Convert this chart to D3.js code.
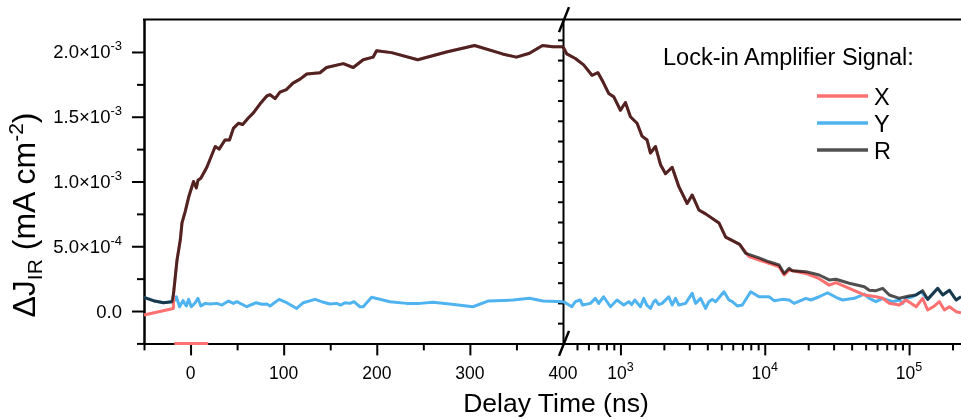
<!DOCTYPE html>
<html>
<head>
<meta charset="utf-8">
<style>
body { margin: 0; background: #fff; }
svg { display: block; font-family: "Liberation Sans", Arial, sans-serif; }
.axis path, .axis line { stroke: #000; stroke-width: 2; }
.trace { fill: none; stroke-width: 3; stroke-linejoin: round; }
</style>
</head>
<body>
<svg width="961" height="419"></svg>
<script src="https://cdnjs.cloudflare.com/ajax/libs/d3/7.8.5/d3.min.js"></script>
<script>
// all signals in units of 1e-4 mA cm^-2, time in ns
// left panel (linear time, -50..400 ns)
var rLeft = [[-50,1.06],[-40,0.8],[-29,0.64],[-20,0.72],[-18.2,1.4],[-14.6,3.9],[-11,5.5],[-9.2,6.8],
  [-5.7,7.7],[-2,8.8],[3.2,10.0],[6.2,9.5],[8,10.1],[11,10.25],[17.5,11.1],[26.5,12.7],[30.7,12.5],
  [37,13.2],[41.8,13.2],[46,14.1],[51.4,14.5],[56,14.4],[62,14.9],[67.5,15.3],[74.7,16.0],[81.9,16.6],
  [85.4,16.7],[90.8,16.4],[96,16.9],[103,17.1],[110,17.6],[117.6,17.9],[124.8,18.3],[139,18.4],
  [146,18.8],[164,19.1],[174.7,18.8],[185.4,19.4],[196,19.6],[199.8,20.1],[215.9,19.95],[244,19.4],
  [274.8,20.0],[305,20.5],[335,19.85],[350,19.6],[364,19.9],[378,20.5],[389,20.4],[400,20.4]];
var xLeftPre = [[-50,-0.31],[-18.5,0.2]];
var xLeftBelow = [[-17.5,-2.5],[19,-2.5]];
var yLeft = [[-50,1.06],[-40,0.8],[-29,0.64],[-20,0.72],[-18.2,0.72],[-15.3,1.1],[-11.8,0.33],[-8.1,0.8],
  [-4.6,0.39],[-2.1,0.9],[0.8,0.33],[5,0.64],[7.9,0.98],[11.1,0.39],[15.8,0.59],[21.1,0.54],[28.3,0.59],
  [33.7,0.46],[40.7,0.77],[46.1,0.59],[49.7,0.72],[60.4,0.33],[70.4,0.64],[76.5,0.52],[81.9,0.54],
  [85.4,0.39],[95.1,0.9],[103.3,0.64],[114,0.2],[121.1,0.64],[133.7,0.9],[140.8,0.72],[149.7,0.54],
  [156.9,0.59],[161.2,0.46],[165.8,0.64],[171.2,0.59],[175.5,0.72],[181.9,0.33],[185.4,0.33],
  [194.4,1.06],[214,0.72],[231.9,0.59],[246.2,0.59],[260.4,0.67],[278.3,0.54],[303.3,0.33],
  [319.4,0.77],[346.2,0.85],[364.1,0.98],[378.3,0.77],[400,0.72]];

// right panel (log time, 400 ns .. 2.3e5 ns)
var rRight = [[400,20.4],[425,19.85],[487,19.5],[556,19.0],[635,18.2],[699,18.4],[765,17.6],[829,16.8],
  [898,16.55],[1000,15.5],[1083,16.1],[1173,15.0],[1304,14.5],[1412,13.5],[1530,13.2],[1615,12.2],
  [1750,12.7],[1896,11.3],[2053,10.6],[2282,11.1],[2540,9.6],[2900,8.3],[3141,8.96],[3497,7.8],
  [3892,7.5],[4818,6.8],[5360,5.7],[6700,5.15],[7380,4.45],[9120,4.1],[10700,3.8],[12570,3.55],
  [13620,2.9],[14760,3.3],[15560,3.1],[19270,3.04],[23840,2.78],[27980,2.4],[31140,2.45],
  [38490,2.14],[48960,1.88],[52990,1.6],[59000,1.57],[65620,1.75],[72990,1.24],[85700,0.98],
  [100000,1.16],[111600,1.24],[124200,1.57],[134500,0.9],[158000,1.75],[171000,1.24],[190500,1.6],
  [211800,0.85],[229000,1.1]];
var xRightTail = [[7780,4.2],[9120,3.94],[12570,3.42],[13620,2.78],[14760,3.17],[19270,2.9],
  [23840,2.5],[27980,2.0],[31140,2.2],[38490,1.75],[48960,1.24],[59000,1.1],[65620,0.98],[72990,0.6],
  [85700,0.46],[95300,0.85],[111900,0.33],[124200,0.98],[134600,0.08],[149900,0.39],[162300,0.72],
  [175700,0.08],[190500,0.33],[211800,-0.05],[229000,-0.13]];
var yRightHead = [[400,0.72],[415,0.64],[461,0.33],[487,0.72],[527,0.85],[547,0.46],[619,0.59],
  [670,0.98],[707,0.59],[765,1.1],[853,0.33],[947,0.85],[1054,0.46],[1142,0.72],[1198,0.5],[1257,0.85],
  [1376,0.33],[1451,0.98],[1523,0.46],[1615,0.2],[1703,0.72],[1750,0.85],[1845,0.5],[1945,0.59],
  [2164,1.1],[2282,0.46],[2409,0.98],[2540,0.46],[2827,0.59],[3141,1.37],[3316,0.59],[3594,0.98],
  [3892,0.2],[4103,0.72],[4326,0.9],[4567,0.72],[5217,1.49],[5650,0.85],[5958,0.72],[6454,0.39],
  [6988,0.46],[7993,1.49],[9120,1.1],[10700,1.1],[11600,0.8],[13260,0.9],[14760,0.85],[15970,0.59],
  [19270,0.98],[20860,0.85],[23840,1.1],[27230,1.41],[31140,1.06],[34600,0.85],[41690,0.98],
  [48960,1.31],[52990,0.98],[59000,0.72],[65620,0.98],[76950,0.72],[85700,0.85],[90300,0.59],
  [95300,0.98],[106000,1.1],[121200,1.49]];

// X follows R where they overlap, Y follows R at the far end
var xLeft = xLeftPre.concat(rLeft.filter(function(d) { return d[0] >= -18.2; }));
var xRight = rRight.filter(function(d) { return d[0] < 7000; }).concat(xRightTail);
var yRight = yRightHead.concat(rRight.filter(function(d) { return d[0] > 125000; }));

var yMajor = [0, 5, 10, 15, 20], yMinor = [-2.5, 2.5, 7.5, 12.5, 17.5];
var xLMajor = [0, 100, 200, 300], xLMinor = [-50, 50, 150, 250, 350], xLLabels = [0, 100, 200, 300, 400];
var xRMajor = [1e3, 1e4, 1e5];
var xRMinor = [500,600,700,800,900,2000,3000,4000,5000,6000,7000,8000,9000,
  20000,30000,40000,50000,60000,70000,80000,90000,200000];

var colX = "#ff7070", colY = "#4fb3f0", colR = "#505050";

var svg = d3.select("svg");
var xL = d3.scaleLinear().domain([-50, 400]).range([144, 563]);
var xR = d3.scaleLog().domain([400, 2.29e5]).range([563, 961]);
var y = d3.scaleLinear().domain([-2.5, 22.5]).range([343.4, 19.6]);
var yBreak = d3.scaleLinear().domain([-2, 14]).range([343.4, 19.6]);
var x0 = 144, xb = 563, xEnd = 961;

// axes
svg.append("g").attr("class", "axis").attr("transform", "translate(" + x0 + ",0)")
  .call(d3.axisLeft(y).tickValues(yMajor).tickSize(12).tickSizeOuter(0).tickFormat(""));
svg.append("g").attr("class", "axis").attr("transform", "translate(" + x0 + ",0)")
  .call(d3.axisLeft(y).tickValues(yMinor).tickSize(7).tickSizeOuter(0).tickFormat(""));
svg.append("g").attr("class", "axis").attr("transform", "translate(" + xb + ",0)")
  .call(d3.axisLeft(yBreak).tickValues(d3.range(-1, 14)).tickSize(5).tickSizeOuter(0).tickFormat(""));

svg.append("g").attr("class", "axis").attr("transform", "translate(0," + y(-2.5) + ")")
  .call(d3.axisBottom(xL).tickValues(xLMajor).tickSize(12).tickSizeOuter(0).tickFormat(""));
svg.append("g").attr("class", "axis").attr("transform", "translate(0," + y(-2.5) + ")")
  .call(d3.axisBottom(xL).tickValues(xLMinor).tickSize(7).tickSizeOuter(0).tickFormat(""));
svg.append("g").attr("class", "axis").attr("transform", "translate(0," + y(-2.5) + ")")
  .call(d3.axisBottom(xR).tickValues(xRMajor).tickSize(12).tickSizeOuter(0).tickFormat(""));
svg.append("g").attr("class", "axis").attr("transform", "translate(0," + y(-2.5) + ")")
  .call(d3.axisBottom(xR).tickValues(xRMinor).tickSize(7).tickSizeOuter(0).tickFormat(""));

svg.append("line").attr("x1", x0 - 1).attr("x2", xEnd).attr("y1", y(22.5)).attr("y2", y(22.5))
  .attr("stroke", "#000").attr("stroke-width", 2);

// break marks
[[y(22.5)], [y(-2.5)]].forEach(function(p) {
  svg.append("line").attr("x1", xb - 4).attr("y1", p[0] + 12.5).attr("x2", xb + 6).attr("y2", p[0] - 12.5)
    .attr("stroke", "#000").attr("stroke-width", 2.5);
});

// tick labels
var labelFont = 17.5;
yMajor.forEach(function(v) {
  var t = svg.append("text").attr("x", 122).attr("y", y(v) + 6.5).attr("text-anchor", "end")
    .attr("font-size", 18.5);
  if (v === 0) { t.text("0.0"); return; }
  var exp = v >= 10 ? -3 : -4, mant = v >= 10 ? v / 10 : v;
  t.append("tspan").text(mant.toFixed(1) + "\u00d710");
  t.append("tspan").attr("dy", -8).attr("font-size", 13).text(String(exp));
});
xLLabels.forEach(function(v) {
  svg.append("text").attr("x", xL(v)).attr("y", 379).attr("text-anchor", "middle")
    .attr("font-size", labelFont).text(v);
});
xRMajor.forEach(function(v) {
  var t = svg.append("text").attr("x", xR(v)).attr("y", 379).attr("text-anchor", "middle")
    .attr("font-size", labelFont);
  t.append("tspan").text("10");
  t.append("tspan").attr("dy", -8).attr("font-size", 12.5).text(Math.round(Math.log10(v)));
});

// axis titles
svg.append("text").attr("x", 556).attr("y", 412).attr("text-anchor", "middle")
  .attr("font-size", 26.5).text("Delay Time (ns)");
var yt = svg.append("text").attr("transform", "translate(35,215) rotate(-90)")
  .attr("text-anchor", "middle").attr("font-size", 32);
yt.append("tspan").text("\u0394J");
yt.append("tspan").attr("dy", 7).attr("font-size", 21).text("IR");
yt.append("tspan").attr("dy", -7).text(" (mA cm");
yt.append("tspan").attr("dy", -12).attr("font-size", 21).text("-2");
yt.append("tspan").attr("dy", 12).text(")");

// traces
var lineL = d3.line().x(function(d) { return xL(d[0]); }).y(function(d) { return y(d[1]); });
var lineR = d3.line().x(function(d) { return xR(d[0]); }).y(function(d) { return y(d[1]); });

var traces = [
  {data: yLeft, line: lineL, color: colY},
  {data: yRight, line: lineR, color: colY},
  {data: xLeft, line: lineL, color: colX},
  {data: xLeftBelow, line: lineL, color: colX},
  {data: xRight, line: lineR, color: colX},
  {data: rLeft, line: lineL, color: colR, blend: true},
  {data: rRight, line: lineR, color: colR, blend: true}
];
traces.forEach(function(s) {
  svg.append("path").attr("class", "trace").attr("d", s.line(s.data)).attr("stroke", s.color)
    .style("mix-blend-mode", s.blend ? "multiply" : null);
});

// legend
svg.append("text").attr("x", 663).attr("y", 65).attr("font-size", 23.5).text("Lock-in Amplifier Signal:");
var legend = [["X", colX], ["Y", colY], ["R", colR]];
legend.forEach(function(d, i) {
  var ly = 96 + i * 27;
  svg.append("line").attr("x1", 817).attr("x2", 868).attr("y1", ly).attr("y2", ly)
    .attr("stroke", d[1]).attr("stroke-width", 3.5);
  svg.append("text").attr("x", 874).attr("y", ly + 8.5).attr("font-size", 23.5).text(d[0]);
});
</script>
</body>
</html>
